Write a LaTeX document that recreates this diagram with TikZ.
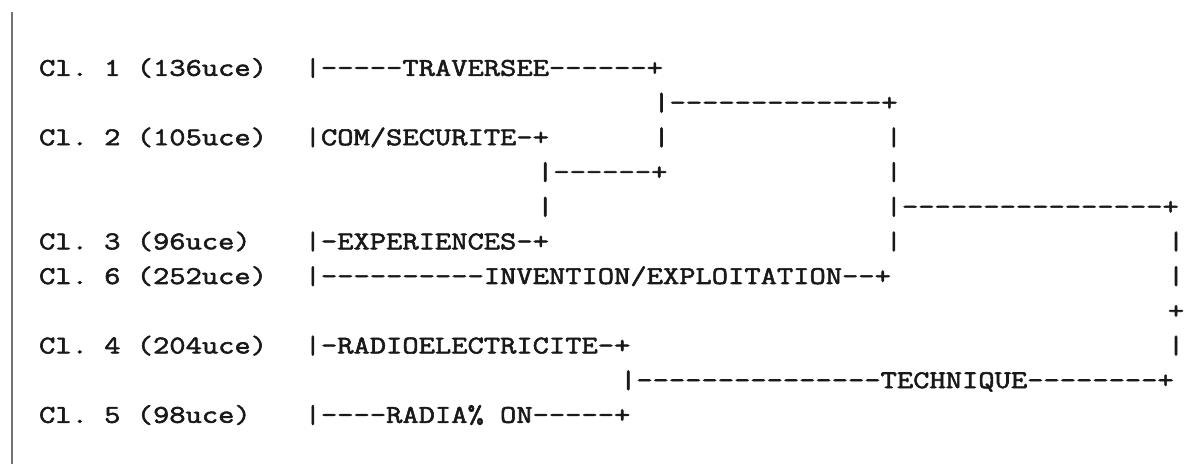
\documentclass[tikz,border=0pt]{standalone}
\usepackage{fontspec}
\setmonofont{Latin Modern Mono}[FakeStretch=1.24, FakeBold=2.2]
\tikzset{
  tt/.style={anchor=base west, inner sep=0pt, outer sep=0pt, text=black!90,
    font=\ttfamily\fontsize{25.5}{25.5}\selectfont},
  margin/.style={draw=black!55, line width=1.1pt}
}
% column c, row r (1..11), text
\newcommand\ascseg[4]{\node[tt] (#1) at ({39.1+16.6*#2},{464-(68+34.7*(#3-1))-7.8}) {#4};}
\begin{document}
\begin{tikzpicture}[x=1pt,y=1pt]
\useasboundingbox (0,0) rectangle (1187,464);
\fill[white] (0,0) rectangle (1187,464);
% left margin rule
\coordinate (mtop) at (12,452);
\coordinate (mbot) at (12,0);
\draw[margin] (mtop) -- (mbot);
% row 1
\ascseg{l1}{0}{1}{Cl. 1 (136uce)}
\ascseg{t1}{16}{1}{|-----TRAVERSEE------+}
% row 2
\ascseg{j2}{37}{2}{|-------------+}
% row 3
\ascseg{l2}{0}{3}{Cl. 2 (105uce)}
\ascseg{t2}{16}{3}{|COM/SECURITE-+}
\ascseg{v3a}{37}{3}{|}
\ascseg{v3b}{51}{3}{|}
% row 4
\ascseg{j4}{30}{4}{|------+}
\ascseg{v4b}{51}{4}{|}
% row 5
\ascseg{v5a}{30}{5}{|}
\ascseg{j5}{51}{5}{|----------------+}
% row 6
\ascseg{l3}{0}{6}{Cl. 3 (96uce)}
\ascseg{t3}{16}{6}{|-EXPERIENCES-+}
\ascseg{v6b}{51}{6}{|}
\ascseg{v6c}{68}{6}{|}
% row 7
\ascseg{l6}{0}{7}{Cl. 6 (252uce)}
\ascseg{t6}{16}{7}{|----------INVENTION/EXPLOITATION--+}
\ascseg{v7c}{68}{7}{|}
% row 8
\ascseg{p8}{68}{8}{+}
% row 9
\ascseg{l4}{0}{9}{Cl. 4 (204uce)}
\ascseg{t4}{16}{9}{|-RADIOELECTRICITE-+}
\ascseg{v9c}{68}{9}{|}
% row 10
\ascseg{j10}{35}{10}{|---------------TECHNIQUE--------+}
% row 11
\ascseg{l5}{0}{11}{Cl. 5 (98uce)}
\ascseg{t5}{16}{11}{|----RADIA\% ON-----+}
\end{tikzpicture}
\end{document}
